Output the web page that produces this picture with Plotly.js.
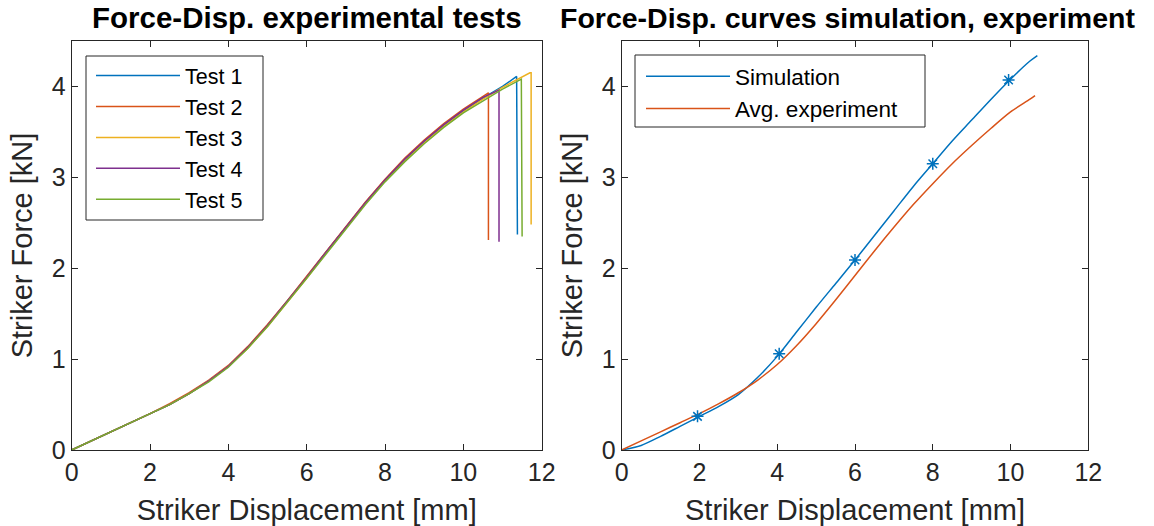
<!DOCTYPE html>
<html>
<head>
<meta charset="utf-8">
<script src="https://cdn.plot.ly/plotly-3.0.1.min.js"></script>
<style>
html,body{margin:0;padding:0;background:#fff;}
#chart{width:1154px;height:526px;}
</style>
</head>
<body>
<div id="chart"></div>
<script>
// ---- Left panel: five experimental tests ----
const test1X = [0,0.5,1,1.5,2,2.5,3,3.5,4,4.5,5,5.5,6,6.5,7,7.5,8,8.5,9,9.5,10,10.5,11,11.36,11.38];
const test1Y = [0,0.10,0.20,0.30,0.40,0.50,0.62,0.76,0.92,1.13,1.37,1.63,1.90,2.18,2.45,2.72,2.97,3.19,3.39,3.57,3.73,3.87,4.00,4.11,2.37];
const test2X = [0,0.5,1,1.5,2,2.5,3,3.5,4,4.5,5,5.5,6,6.5,7,7.5,8,8.5,9,9.5,10,10.5,10.64,10.64];
const test2Y = [0,0.10,0.20,0.30,0.40,0.51,0.63,0.77,0.93,1.14,1.38,1.64,1.91,2.19,2.46,2.73,2.98,3.21,3.41,3.59,3.75,3.89,3.93,2.31];
const test3X = [0,0.5,1,1.5,2,2.5,3,3.5,4,4.5,5,5.5,6,6.5,7,7.5,8,8.5,9,9.5,10,10.5,11,11.5,11.70,11.73,11.73];
const test3Y = [0,0.10,0.20,0.30,0.40,0.50,0.62,0.76,0.92,1.12,1.36,1.62,1.89,2.17,2.44,2.71,2.96,3.18,3.38,3.56,3.72,3.86,3.99,4.11,4.15,4.15,2.48];
const test4X = [0,0.5,1,1.5,2,2.5,3,3.5,4,4.5,5,5.5,6,6.5,7,7.5,8,8.5,9,9.5,10,10.5,10.91,10.91];
const test4Y = [0,0.10,0.20,0.30,0.40,0.50,0.62,0.76,0.92,1.13,1.37,1.63,1.90,2.18,2.45,2.72,2.97,3.20,3.40,3.58,3.74,3.88,3.96,2.29];
const test5X = [0,0.5,1,1.5,2,2.5,3,3.5,4,4.5,5,5.5,6,6.5,7,7.5,8,8.5,9,9.5,10,10.5,11,11.48,11.50];
const test5Y = [0,0.10,0.20,0.30,0.40,0.50,0.62,0.75,0.91,1.12,1.36,1.62,1.89,2.16,2.43,2.70,2.95,3.17,3.37,3.55,3.71,3.84,3.97,4.08,2.35];
const testNames = ["Test 1","Test 2","Test 3","Test 4","Test 5"];

// ---- Right panel: simulation vs averaged experiment ----
const simX = [0,0.5,1,1.5,2,2.5,3,3.5,4,4.5,5,5.5,6,6.5,7,7.5,8,8.5,9,9.5,10,10.5,10.69];
const simY = [0,0.05,0.15,0.26,0.37,0.48,0.61,0.80,1.03,1.30,1.57,1.83,2.09,2.36,2.63,2.90,3.15,3.40,3.63,3.86,4.08,4.28,4.34];
const simMarkX = [1.95,4.05,6.0,8.0,9.95];
const simMarkY = [0.37,1.06,2.09,3.15,4.07];
const avgX = [0,0.5,1,1.5,2,2.5,3,3.5,4,4.5,5,5.5,6,6.5,7,7.5,8,8.5,9,9.5,10,10.5,10.63];
const avgY = [0,0.10,0.20,0.30,0.40,0.51,0.63,0.77,0.94,1.15,1.39,1.65,1.92,2.19,2.45,2.70,2.93,3.15,3.35,3.54,3.72,3.86,3.90];
const rightNames = ["Simulation","Avg. experiment"];

const xTicks = [0,2,4,6,8,10,12];
const yTicks = [0,1,2,3,4];
const titles = ["Force-Disp. experimental tests","Force-Disp. curves simulation, experiment"];
const xLabel = "Striker Displacement [mm]";
const yLabel = "Striker Force [kN]";

const C = ["#0072BD","#D95319","#EDB120","#7E2F8E","#77AC30"];
const FONT = "'Liberation Sans', Arial, Helvetica, sans-serif";
const W = 1154, H = 526;

const testsX = [test1X,test2X,test3X,test4X,test5X];
const testsY = [test1Y,test2Y,test3Y,test4Y,test5Y];
const traces = [];
for (let i = 0; i < 5; i++) {
  traces.push({x: testsX[i], y: testsY[i], type: 'scatter', mode: 'lines', name: testNames[i],
    line: {color: C[i], width: 1.5}, xaxis: 'x', yaxis: 'y', legend: 'legend'});
}
traces.push({x: simX, y: simY, type: 'scatter', mode: 'lines', name: rightNames[0],
  line: {color: C[0], width: 1.5, shape: 'spline', smoothing: 0.8}, xaxis: 'x2', yaxis: 'y2', legend: 'legend2'});
traces.push({x: avgX, y: avgY, type: 'scatter', mode: 'lines', name: rightNames[1],
  line: {color: C[1], width: 1.5, shape: 'spline', smoothing: 0.8}, xaxis: 'x2', yaxis: 'y2', legend: 'legend2'});
traces.push({x: simMarkX, y: simMarkY, type: 'scatter', mode: 'markers', showlegend: false,
  marker: {symbol: 'asterisk-open', size: 10, color: C[0], line: {color: C[0], width: 1.5}}, xaxis: 'x2', yaxis: 'y2'});

function xax(domain, anchor) {
  return {domain: domain, anchor: anchor, range: [0, 12], tickvals: xTicks, ticktext: xTicks.map(String),
    ticks: 'inside', ticklen: 6, tickwidth: 1, tickcolor: '#262626', showline: true, linecolor: '#262626', linewidth: 1,
    mirror: 'ticks', showgrid: false, zeroline: false, tickfont: {family: FONT, size: 25, color: '#262626'},
    title: {text: xLabel, font: {family: FONT, size: 29, color: '#262626'}, standoff: 14}, automargin: false};
}
function yax(domain, anchor) {
  return {domain: domain, anchor: anchor, range: [0, 4.5], tickvals: yTicks, ticktext: yTicks.map(String),
    ticks: 'inside', ticklen: 6, tickwidth: 1, tickcolor: '#262626', showline: true, linecolor: '#262626', linewidth: 1,
    mirror: 'ticks', showgrid: false, zeroline: false, tickfont: {family: FONT, size: 25, color: '#262626'},
    title: {text: yLabel, font: {family: FONT, size: 29, color: '#262626'}, standoff: 10}, automargin: false};
}
const yDom = [(H - 450) / H, (H - 41) / H];
function px(x) { return x / W; }
function py(y) { return 1 - y / H; }
const layout = {
  width: W, height: H, margin: {l: 0, r: 0, t: 0, b: 0}, paper_bgcolor: '#fff', plot_bgcolor: '#fff',
  font: {family: FONT, color: '#262626'},
  xaxis: xax([px(71.7), px(541.7)], 'y'),
  yaxis: yax(yDom, 'x'),
  xaxis2: xax([px(621.7), px(1088.3)], 'y2'),
  yaxis2: yax(yDom, 'x2'),
  legend: {x: px(91), y: py(55), xanchor: 'left', yanchor: 'top', bgcolor: 'rgba(0,0,0,0)',
    borderwidth: 0, font: {family: FONT, size: 21.5, color: '#000'}, itemwidth: 84, tracegroupgap: 0},
  legend2: {x: px(641), y: py(55), xanchor: 'left', yanchor: 'top', bgcolor: 'rgba(0,0,0,0)',
    borderwidth: 0, font: {family: FONT, size: 22.5, color: '#000'}, itemwidth: 84, tracegroupgap: 0},
  showlegend: true,
  shapes: [
    {type: 'rect', xref: 'paper', yref: 'paper', x0: px(86), x1: px(263), y0: py(56), y1: py(220),
      fillcolor: '#fff', line: {color: '#262626', width: 1}, layer: 'above'},
    {type: 'rect', xref: 'paper', yref: 'paper', x0: px(635), x1: px(925), y0: py(55), y1: py(127),
      fillcolor: '#fff', line: {color: '#262626', width: 1}, layer: 'above'}
  ],
  annotations: [
    {text: '<b>' + titles[0] + '</b>', xref: 'paper', yref: 'paper', x: px(306.7), y: py(18),
      xanchor: 'center', yanchor: 'middle', showarrow: false, font: {family: FONT, size: 29.5, color: '#000'}},
    {text: '<b>' + titles[1] + '</b>', xref: 'paper', yref: 'paper', x: px(558), y: py(18),
      xanchor: 'left', yanchor: 'middle', showarrow: false, font: {family: FONT, size: 28.5, color: '#000'}}
  ]
};
Plotly.newPlot('chart', traces, layout, {displayModeBar: false, responsive: false});
</script>
</body>
</html>
